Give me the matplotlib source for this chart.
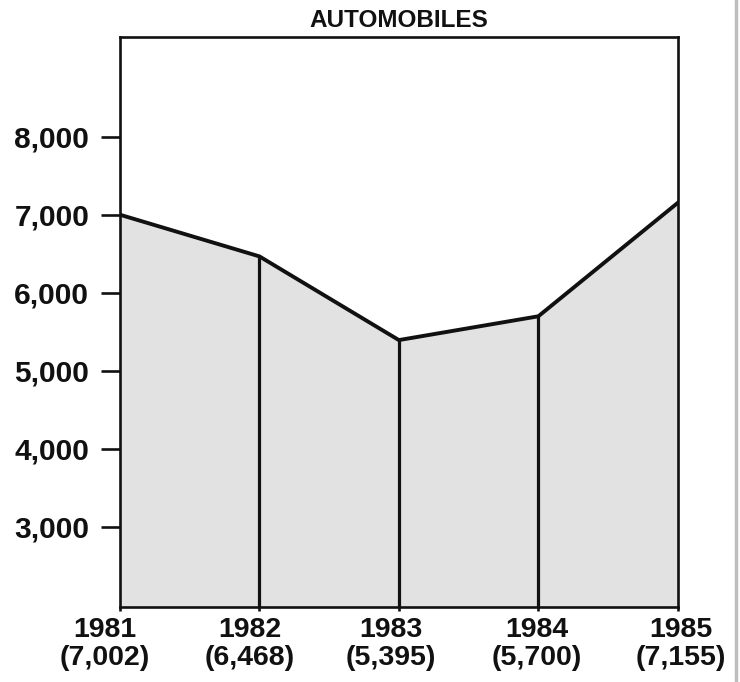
import matplotlib
matplotlib.use("Agg")
import matplotlib.pyplot as plt
from matplotlib.transforms import ScaledTranslation
from matplotlib.lines import Line2D

# Automobile figures by year
years = [1981, 1982, 1983, 1984, 1985]
values = [7002, 6468, 5395, 5700, 7155]
year_labels = ["1981\n(7,002)", "1982\n(6,468)", "1983\n(5,395)", "1984\n(5,700)", "1985\n(7,155)"]
y_ticks = [3000, 4000, 5000, 6000, 7000, 8000]
y_tick_labels = ["3,000", "4,000", "5,000", "6,000", "7,000", "8,000"]
title = "AUTOMOBILES"

plt.rcParams["font.family"] = ["Liberation Sans", "DejaVu Sans"]
plt.rcParams["font.weight"] = "bold"

fig = plt.figure(figsize=(7.40, 6.82), dpi=100)
ax = fig.add_axes([0.162, 0.110, 0.754, 0.836])

ink = "#111111"
ax.fill_between(years, values, 0, color="#e2e2e2", linewidth=0, zorder=1)
ax.plot(years, values, color=ink, linewidth=2.8, solid_joinstyle="miter", zorder=3)
ax.vlines(years[1:-1], 0, values[1:-1], color=ink, linewidth=2.3, zorder=3)

ax.set_xlim(1981, 1985)
ax.set_ylim(1974, 9282)

for s in ax.spines.values():
    s.set_linewidth(1.9)
    s.set_color(ink)

ax.set_yticks(y_ticks)
ax.set_yticklabels(y_tick_labels, fontsize=21.5, fontweight="bold")
ax.tick_params(axis="y", length=14, width=1.9, pad=8, color=ink, labelcolor=ink)

ax.set_xticks(years)
ax.set_xticklabels(year_labels, fontsize=20.5, fontweight="bold", linespacing=1.08)
ax.tick_params(axis="x", length=3, width=1.9, pad=4.5, color=ink, labelcolor=ink)

# small horizontal nudges of the year labels, in points
nudges = [-11, -7, -6, -1, 2]
for lab, dx in zip(ax.get_xticklabels(), nudges):
    lab.set_transform(lab.get_transform() + ScaledTranslation(dx / 72, 0, fig.dpi_scale_trans))

ax.set_title(title, fontsize=17.5, fontweight="bold", color=ink, pad=7)

# page edge on the right
fig.add_artist(Line2D([0.994, 0.994], [0.0, 1.0], transform=fig.transFigure,
                      color="#bdbdbd", linewidth=2.5))

fig.savefig("out.png", dpi=100, facecolor="white")
